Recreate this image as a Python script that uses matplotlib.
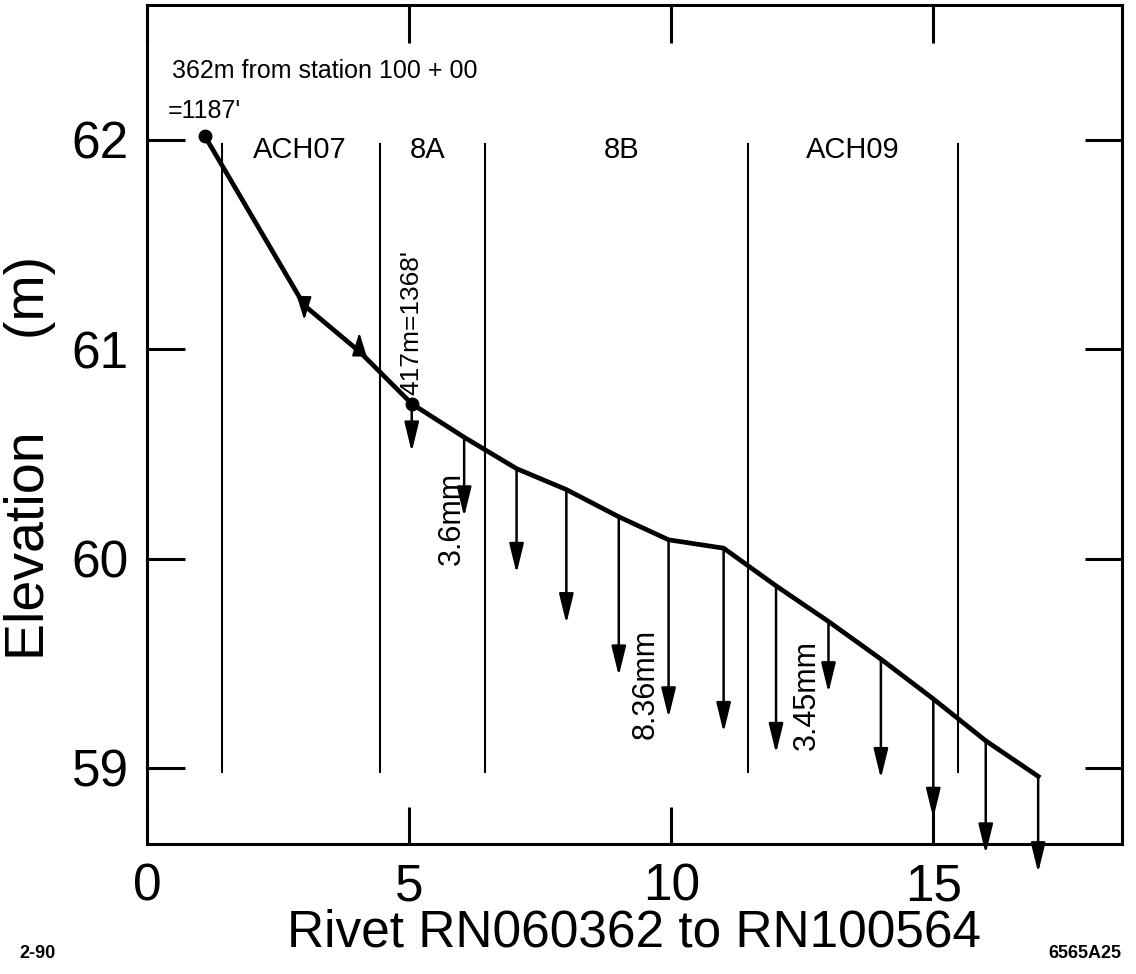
import matplotlib
matplotlib.use("Agg")
import matplotlib.pyplot as plt

plt.rcParams["font.family"] = ["Liberation Sans", "DejaVu Sans"]

# rivet positions along the line and their elevations (m)
rivet_x = [1.1, 3.0, 4.05, 5.05, 6.05, 7.05, 8.0, 9.0, 9.95, 11.0,
           12.0, 13.0, 14.0, 15.0, 16.0, 17.0]
elev = [62.02, 61.21, 60.99, 60.74, 60.58, 60.43, 60.33, 60.20, 60.09, 60.05,
        59.87, 59.70, 59.52, 59.33, 59.13, 58.96]

# settlement arrows (exaggerated), tip elevation for each rivet
settle_x = [5.05, 6.05, 7.05, 8.0, 9.0, 9.95, 11.0, 12.0, 13.0, 14.0, 15.0, 16.0, 17.0]
settle_top = [60.74, 60.58, 60.43, 60.33, 60.20, 60.09, 60.05, 59.87, 59.70,
              59.52, 59.33, 59.13, 58.96]
settle_tip = [60.51, 60.20, 59.93, 59.69, 59.44, 59.24, 59.17, 59.07, 59.36,
              58.95, 58.76, 58.59, 58.50]

# small arrows near the upper part (down at 3, up at 4)
small_x = [3.0, 4.05]
small_top = [61.21, 60.99]
small_tip = [61.14, 61.08]

# zone boundaries and zone names
zone_edges = [1.43, 4.45, 6.45, 11.47, 15.48]
zone_names = ["ACH07", "8A", "8B", "ACH09"]
zone_label_x = [2.92, 5.36, 9.06, 13.47]

# rotated labels
rot_text = ["417m=1368'", "3.6mm", "8.36mm", "3.45mm"]
rot_x = [5.04, 5.82, 9.52, 12.58]
rot_y = [61.13, 60.19, 59.40, 59.35]
rot_size = [19, 22, 22, 22]

fig = plt.figure(figsize=(11.36, 9.74), dpi=100)
ax = fig.add_axes([0.1294, 0.1335, 0.8583, 0.8614])
ax.set_xlim(0, 18.6)
ax.set_ylim(58.637, 62.645)

# profile line
ax.plot(rivet_x, elev, color="black", lw=3.4, solid_joinstyle="miter", zorder=3)
ax.plot([rivet_x[0], rivet_x[3]], [elev[0], elev[3]], "o", color="black",
        ms=9, zorder=4)

# zone lines
for zx in zone_edges:
    ax.plot([zx, zx], [61.98, 58.98], color="black", lw=1.5, zorder=2)
for name, zx in zip(zone_names, zone_label_x):
    ax.text(zx, 61.95, name, fontsize=21, ha="center", va="center")

arrow_style = dict(arrowstyle="-|>,head_length=0.9,head_width=0.22",
                   color="black", lw=1.8, mutation_scale=20,
                   shrinkA=0, shrinkB=0)
for sx, st, sp in zip(settle_x, settle_top, settle_tip):
    ax.annotate("", xy=(sx, sp), xytext=(sx, st), arrowprops=arrow_style,
                annotation_clip=False, zorder=2)

small_style = dict(arrowstyle="-|>,head_length=0.7,head_width=0.22",
                   color="black", lw=1.5, mutation_scale=20,
                   shrinkA=0, shrinkB=0)
for sx, st, sp in zip(small_x, small_top, small_tip):
    ax.annotate("", xy=(sx, sp), xytext=(sx, st), arrowprops=small_style,
                zorder=2)

for t, rx, ry, fs in zip(rot_text, rot_x, rot_y, rot_size):
    ax.text(rx, ry, t, rotation=90, fontsize=fs, ha="center", va="center")

ax.text(0.48, 62.33, "362m from station 100 + 00", fontsize=18,
        ha="left", va="center")
ax.text(0.40, 62.14, "=1187'", fontsize=18, ha="left", va="center")

# axes styling
ax.set_xticks([0, 5, 10, 15])
ax.set_yticks([59, 60, 61, 62])
ax.tick_params(direction="in", length=27, width=2.2, top=True, right=True,
               labelsize=37, pad=13)
for sp in ax.spines.values():
    sp.set_linewidth(2.2)

fig.text(0.558, 1 - 933 / 974, "Rivet RN060362 to RN100564", fontsize=37,
         ha="center", va="center")
fig.text(30 / 1136, 1 - 458 / 974, "Elevation      (m)", fontsize=40,
         rotation=90, ha="center", va="center")
fig.text(38 / 1136, 1 - 953 / 974, "2-90", fontsize=13, fontweight="bold",
         ha="center", va="center")
fig.text(1085 / 1136, 1 - 953 / 974, "6565A25", fontsize=13,
         fontweight="bold", ha="center", va="center")

fig.savefig("out.png", dpi=100)
